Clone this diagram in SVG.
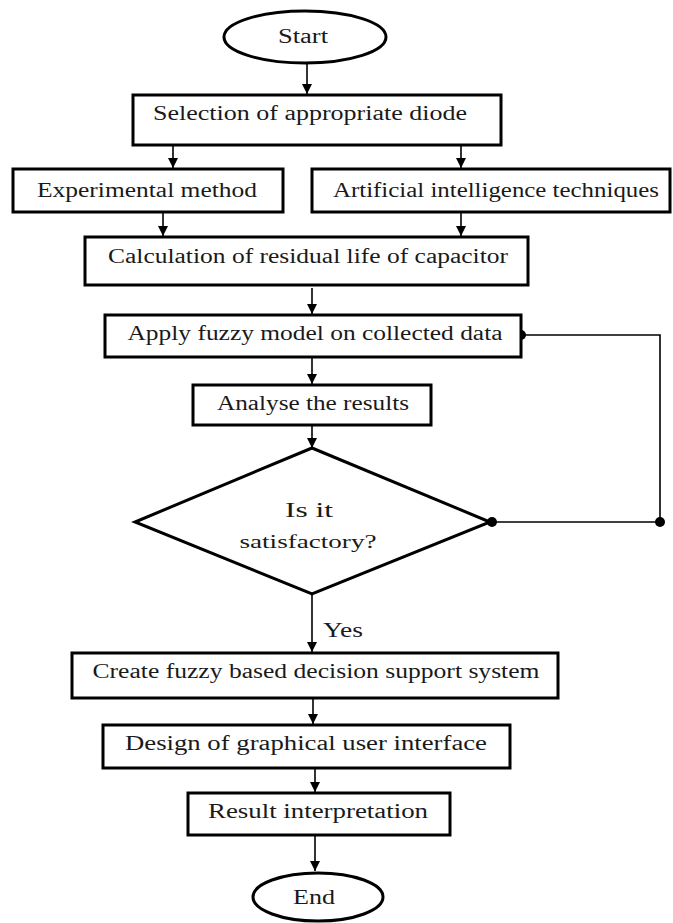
<svg xmlns="http://www.w3.org/2000/svg" width="673" height="923" viewBox="0 0 673 923">
<defs>
<style>
.box{fill:#fff;stroke:#000;stroke-width:3}
.term{fill:#fff;stroke:#000;stroke-width:3}
.t{font-family:"Liberation Serif","Times New Roman",serif;font-size:20px;fill:#1a1a1a;text-anchor:middle}
.c{fill:none;stroke:#000;stroke-width:1.6}
.dot{fill:#000}
</style>
<marker id="ah" markerUnits="userSpaceOnUse" markerWidth="12" markerHeight="12" viewBox="0 0 12 12" refX="6" refY="11" orient="auto-start-reverse">
<path d="M1,1 L11,1 L6,11 Z" fill="#000" transform="rotate(-90 6 6)"/>
</marker>
<marker id="arr" markerUnits="userSpaceOnUse" markerWidth="12" markerHeight="12" viewBox="0 0 12 12" refX="11" refY="6" orient="auto">
<path d="M1,1 L11,6 L1,11 Z" fill="#000"/>
</marker>
</defs>
<rect width="673" height="923" fill="#fff"/>
<g id="connectors">
<line class="c" x1="307" y1="63" x2="307" y2="94" marker-end="url(#arr)"/>
<line class="c" x1="173" y1="145" x2="173" y2="168" marker-end="url(#arr)"/>
<line class="c" x1="461" y1="145" x2="461" y2="168" marker-end="url(#arr)"/>
<line class="c" x1="163" y1="212" x2="163" y2="236" marker-end="url(#arr)"/>
<line class="c" x1="461" y1="212" x2="461" y2="236" marker-end="url(#arr)"/>
<line class="c" x1="312" y1="288" x2="312" y2="314" marker-end="url(#arr)"/>
<line class="c" x1="312" y1="357" x2="312" y2="384" marker-end="url(#arr)"/>
<line class="c" x1="312" y1="425" x2="312" y2="448" marker-end="url(#arr)"/>
<line class="c" x1="312" y1="594" x2="312" y2="652" marker-end="url(#arr)"/>
<line class="c" x1="313" y1="698" x2="313" y2="724" marker-end="url(#arr)"/>
<line class="c" x1="315" y1="768" x2="315" y2="792" marker-end="url(#arr)"/>
<line class="c" x1="315" y1="835" x2="315" y2="871" marker-end="url(#arr)"/>
<polyline class="c" points="492,522 660,522 660,335 521,335"/>
<circle class="dot" cx="492" cy="522" r="5"/>
<circle class="dot" cx="660" cy="522" r="5"/>
<circle class="dot" cx="521" cy="335" r="5"/>
<text class="t" x="343" y="637" textLength="40" lengthAdjust="spacingAndGlyphs">Yes</text>
</g>
<g id="start">
<ellipse class="term" cx="305" cy="37" rx="81" ry="26"/>
<text class="t" x="303" y="43" textLength="50" lengthAdjust="spacingAndGlyphs">Start</text>
</g>
<g id="selection">
<rect class="box" x="133" y="95" width="368" height="50"/>
<text class="t" x="310" y="120" textLength="314" lengthAdjust="spacingAndGlyphs">Selection of appropriate diode</text>
</g>
<g id="experimental">
<rect class="box" x="13" y="169" width="270" height="43"/>
<text class="t" x="147" y="197" textLength="220" lengthAdjust="spacingAndGlyphs">Experimental method</text>
</g>
<g id="artificial">
<rect class="box" x="312" y="169" width="358" height="43"/>
<text class="t" x="496" y="197" textLength="326" lengthAdjust="spacingAndGlyphs">Artificial intelligence techniques</text>
</g>
<g id="calculation">
<rect class="box" x="85" y="237" width="443" height="48"/>
<text class="t" x="308" y="263" textLength="400" lengthAdjust="spacingAndGlyphs">Calculation of residual life of capacitor</text>
</g>
<g id="apply">
<rect class="box" x="105" y="315" width="416" height="42"/>
<text class="t" x="315" y="340" textLength="375" lengthAdjust="spacingAndGlyphs">Apply fuzzy model on collected data</text>
</g>
<g id="analyse">
<rect class="box" x="193" y="385" width="238" height="40"/>
<text class="t" x="313" y="410" textLength="192" lengthAdjust="spacingAndGlyphs">Analyse the results</text>
</g>
<g id="decision">
<polygon class="box" points="312,448 490,522 312,594 135,522"/>
<text class="t" x="309" y="517" textLength="48" lengthAdjust="spacingAndGlyphs" style="font-size:22px">Is it</text>
<text class="t" x="308" y="548" textLength="137" lengthAdjust="spacingAndGlyphs" style="font-size:18px">satisfactory?</text>
</g>
<g id="create">
<rect class="box" x="72" y="653" width="486" height="45"/>
<text class="t" x="316" y="678" textLength="447" lengthAdjust="spacingAndGlyphs">Create fuzzy based decision support system</text>
</g>
<g id="design">
<rect class="box" x="103" y="725" width="407" height="43"/>
<text class="t" x="306" y="750" textLength="362" lengthAdjust="spacingAndGlyphs">Design of graphical user interface</text>
</g>
<g id="result">
<rect class="box" x="188" y="793" width="262" height="42"/>
<text class="t" x="318" y="818" textLength="220" lengthAdjust="spacingAndGlyphs">Result interpretation</text>
</g>
<g id="end">
<ellipse class="term" cx="318" cy="897" rx="65" ry="24"/>
<text class="t" x="314" y="904" textLength="42" lengthAdjust="spacingAndGlyphs">End</text>
</g>
</svg>
